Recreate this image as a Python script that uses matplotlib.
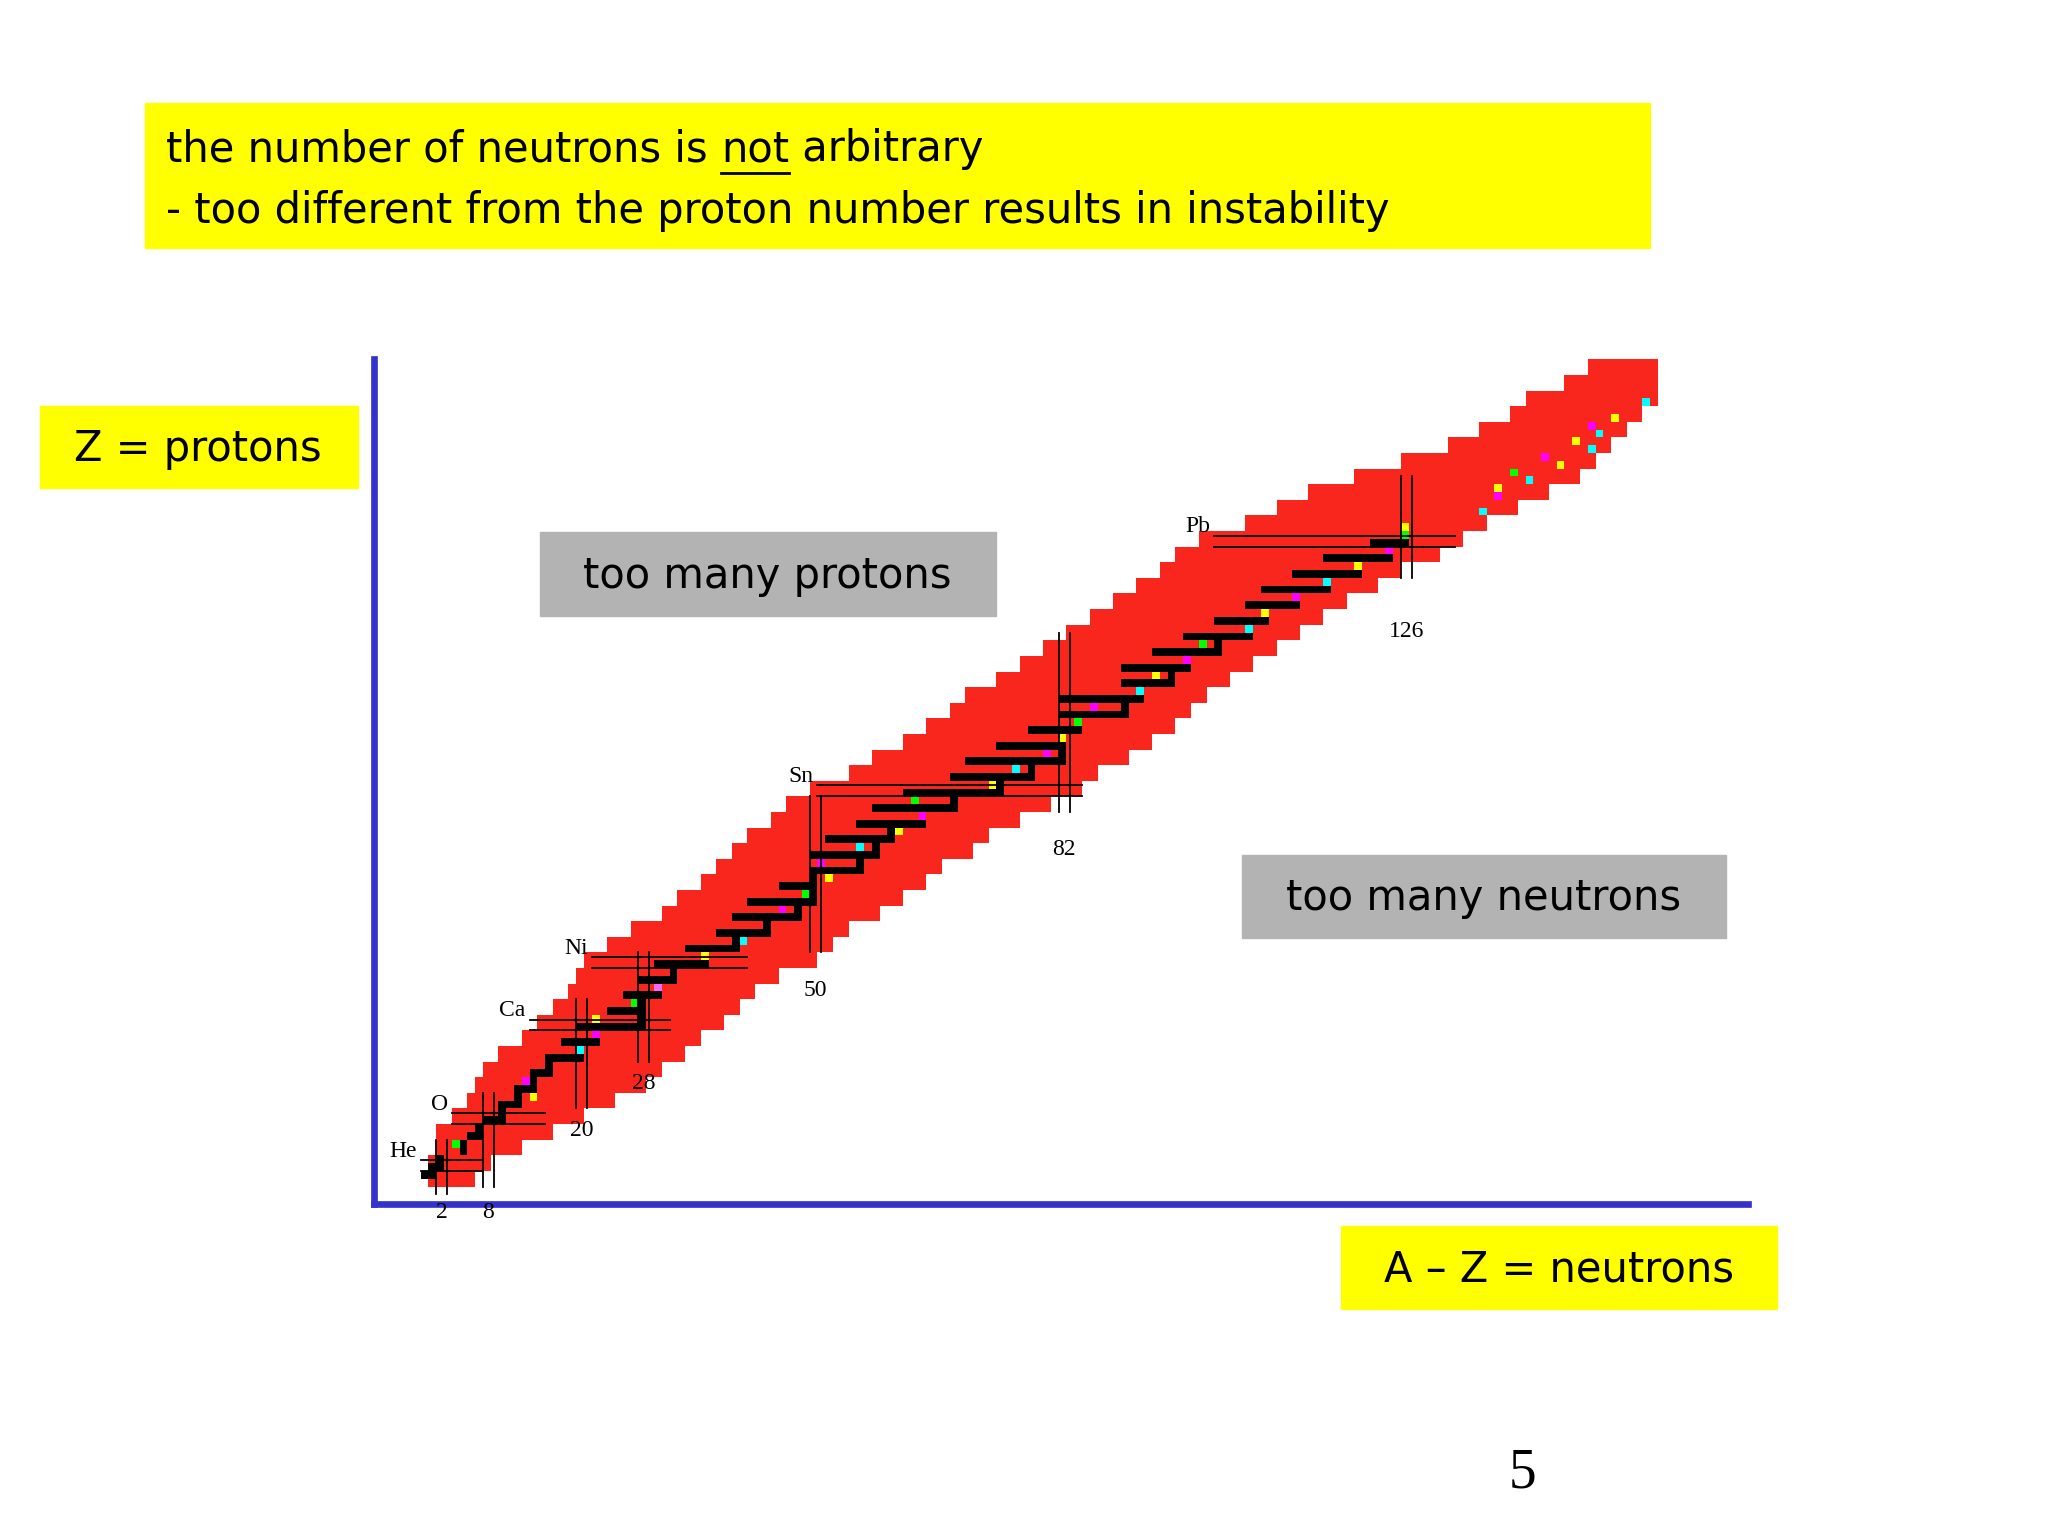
import matplotlib.pyplot as plt
from matplotlib.patches import Rectangle

# known nuclides: for every Z row pair, lowest and highest neutron number
band_Z = [0, 2, 4, 6, 8, 10, 12, 14, 16, 18, 20, 22, 24, 26, 28, 30, 32, 34, 36, 38, 40,
          42, 44, 46, 48, 50, 52, 54, 56, 58, 60, 62, 64, 66, 68, 70, 72, 74, 76, 78, 80,
          82, 84, 86, 88, 90, 92, 94, 96, 98, 100, 102, 104, 106]
band_Nmin = [1, 1, 2, 2, 4, 6, 7, 8, 10, 13, 15, 17, 19, 20, 21, 24, 27, 31, 33, 36, 38,
             40, 42, 45, 47, 50, 55, 58, 62, 65, 68, 70, 74, 77, 80, 83, 86, 89, 92, 95, 97,
             100, 106, 110, 114, 120, 126, 132, 136, 140, 142, 147, 150, 153]
band_Nmax = [6, 8, 12, 16, 20, 24, 28, 30, 33, 35, 38, 40, 42, 45, 50, 52, 54, 58, 61, 64, 66,
             70, 72, 76, 80, 84, 86, 90, 93, 96, 98, 100, 103, 106, 109, 112, 115, 118, 122, 125, 130,
             133, 136, 140, 144, 148, 150, 152, 154, 156, 158, 158, 158, 159]

# stable nuclides: neutron range per Z
stab_Z = [1, 2, 4, 6, 8, 10, 12, 14, 16, 18, 20, 22, 24, 26, 28, 30, 32, 34, 36, 38, 40,
          42, 44, 46, 48, 50, 52, 54, 56, 58, 60, 62, 64, 66, 68, 70, 72, 74, 76, 78, 80, 82]
stab_lo = [0, 1, 5, 6, 8, 10, 12, 14, 16, 18, 20, 24, 26, 28, 30, 34, 38, 40, 42, 46, 50,
           50, 52, 56, 58, 62, 68, 70, 74, 78, 82, 82, 90, 90, 94, 98, 102, 106, 108, 112, 116, 122]
stab_hi = [1, 2, 5, 7, 10, 12, 14, 16, 20, 22, 28, 28, 30, 32, 36, 40, 44, 48, 50, 50, 56,
           58, 60, 64, 68, 74, 78, 82, 82, 84, 90, 92, 96, 98, 102, 106, 108, 112, 116, 120, 124, 126]

# long-lived nuclides (Z, N, colour)
ll_Z = [5, 11, 13, 17, 19, 21, 23, 25, 29, 31, 35, 37, 39, 41, 43, 45, 47, 49, 51, 53, 55,
        57, 59, 61, 63, 65, 67, 69, 71, 73, 75, 77, 79, 81, 83, 84, 86, 88, 89, 90, 91, 92,
        93, 94, 95, 96, 97, 98, 100]
ll_N = [4, 14, 13, 20, 22, 22, 27, 30, 36, 41, 46, 49, 52, 51, 56, 61, 64, 63, 73, 76, 80,
        82, 84, 86, 92, 94, 98, 100, 106, 108, 112, 116, 120, 124, 126, 126, 136, 138, 138, 142, 140, 146,
        144, 150, 148, 151, 150, 153, 157]
ll_col = ['#00ff00', '#ffff00', '#ff00ff', '#00ffff', '#ff00ff', '#ffff00', '#00ff00', '#ff66ff',
          '#ffff00', '#00ffff', '#ff00ff', '#00ff00', '#ffff00', '#ff00ff', '#00ffff', '#ffff00',
          '#ff00ff', '#00ff00', '#ffff00', '#00ffff', '#ff00ff', '#ffff00', '#00ff00', '#ff00ff',
          '#00ffff', '#ffff00', '#ff00ff', '#00ff00', '#00ffff', '#ffff00', '#ff00ff', '#00ffff',
          '#ffff00', '#ff00ff', '#00ff00', '#ffff00', '#00ffff', '#ff00ff', '#ffff00', '#00ffff',
          '#00ff00', '#ffff00', '#ff00ff', '#00ffff', '#ffff00', '#00ffff', '#ff00ff', '#ffff00',
          '#00ffff']

# magic numbers: neutron lines (N, Zlow, Zhigh) and proton lines (Z, Nlow, Nhigh)
magN = [2, 8, 20, 28, 50, 82, 126]
magN_zlo = [-1, 0, 10, 16, 30, 48, 78]
magN_zhi = [6, 12, 24, 30, 50, 71, 91]
magN_lab_z = [-2, -2, 8.5, 14.5, 26.5, 44.5, 72.5]
magZ = [2, 8, 20, 28, 50, 82]
magZ_nlo = [0, 4, 14, 22, 51, 102]
magZ_nhi = [8, 16, 32, 42, 85, 133]
magZ_name = ['He', 'O', 'Ca', 'Ni', 'Sn', 'Pb']

W, H = 1550, 1162.5
fig = plt.figure(figsize=(20.48, 15.36), dpi=100)


def fx(x):
    return x / W


def fy(y):
    return 1 - y / H


def box(x0, y0, x1, y1, color):
    fig.patches.append(Rectangle((fx(x0), fy(y1)), fx(x1) - fx(x0), fy(y0) - fy(y1),
                                 transform=fig.transFigure, color=color, zorder=0))


ax = fig.add_axes([fx(283), fy(911), fx(1323) - fx(283), fy(272) - fy(911)])
ax.set_xlim(-6, 170.6)
ax.set_ylim(-2.2, 106)
for s in ['top', 'right']:
    ax.spines[s].set_visible(False)
for s in ['left', 'bottom']:
    ax.spines[s].set_color('#3333cc')
    ax.spines[s].set_linewidth(4.8)
ax.set_xticks([])
ax.set_yticks([])
ax.patch.set_alpha(0)

red = '#f8261c'
for z, a, b in zip(band_Z, band_Nmin, band_Nmax):
    ax.barh(z, b - a + 1, left=a, height=2, align='edge', color=red, linewidth=0)
for z, a, b in zip(stab_Z, stab_lo, stab_hi):
    ax.barh(z, b - a + 1, left=a, height=1, align='edge', color='black', linewidth=0)
    ax.barh(z + 1, 1, left=b, height=1, align='edge', color='black', linewidth=0)
for z, n, c in zip(ll_Z, ll_N, ll_col):
    ax.barh(z, 1, left=n, height=1, align='edge', color=c, linewidth=0)

serif = 'Liberation Serif'
for n, a, b, lz in zip(magN, magN_zlo, magN_zhi, magN_lab_z):
    for d in (0, 1.4):
        ax.plot([n + d, n + d], [a, b], color='black', lw=1.3)
    ax.text(n + 0.7, lz, str(n), ha='center', va='top', fontsize=17, family=serif)
for z, a, b, name in zip(magZ, magZ_nlo, magZ_nhi, magZ_name):
    for d in (0, 1.4):
        ax.plot([a, b], [z + d, z + d], color='black', lw=1.3)
    ax.text(a - 0.5, z + 1.2, name, ha='right', va='bottom', fontsize=17, family=serif)

# text boxes
sans = 'DejaVu Sans'
box(110, 78, 1249, 188, '#ffff00')
line1a = 'the number of neutrons is '
t = fig.text(fx(126), fy(113), line1a, fontsize=30, family=sans, va='center')
fig.canvas.draw()
r = fig.canvas.get_renderer()
bb = t.get_window_extent(r)
x_not = bb.x1 / fig.bbox.width
t2 = fig.text(x_not, fy(113), 'not', fontsize=30, family=sans, va='center')
bb2 = t2.get_window_extent(r)
x_end = bb2.x1 / fig.bbox.width
fig.text(x_end, fy(113), ' arbitrary', fontsize=30, family=sans, va='center')
fig.add_artist(plt.Line2D([x_not, x_end], [fy(131), fy(131)], color='black', lw=2,
                          transform=fig.transFigure))
fig.text(fx(126), fy(160), '- too different from the proton number results in instability',
         fontsize=30, family=sans, va='center')

box(30, 307, 271, 369, '#ffff00')
fig.text(fx(150), fy(340), 'Z = protons', fontsize=30, family=sans, ha='center', va='center')
box(409, 403, 754, 466, '#b3b3b3')
fig.text(fx(581), fy(436), 'too many protons', fontsize=30, family=sans, ha='center', va='center')
box(940, 647, 1306, 710, '#b3b3b3')
fig.text(fx(1123), fy(680), 'too many neutrons', fontsize=30, family=sans, ha='center', va='center')
box(1015, 928, 1345, 991, '#ffff00')
fig.text(fx(1180), fy(961), 'A \u2013 Z = neutrons', fontsize=30, family=sans, ha='center', va='center')
fig.text(fx(1152), fy(1115), '5', fontsize=40, family=serif, ha='center', va='center')

fig.savefig('out.png', dpi=100)
